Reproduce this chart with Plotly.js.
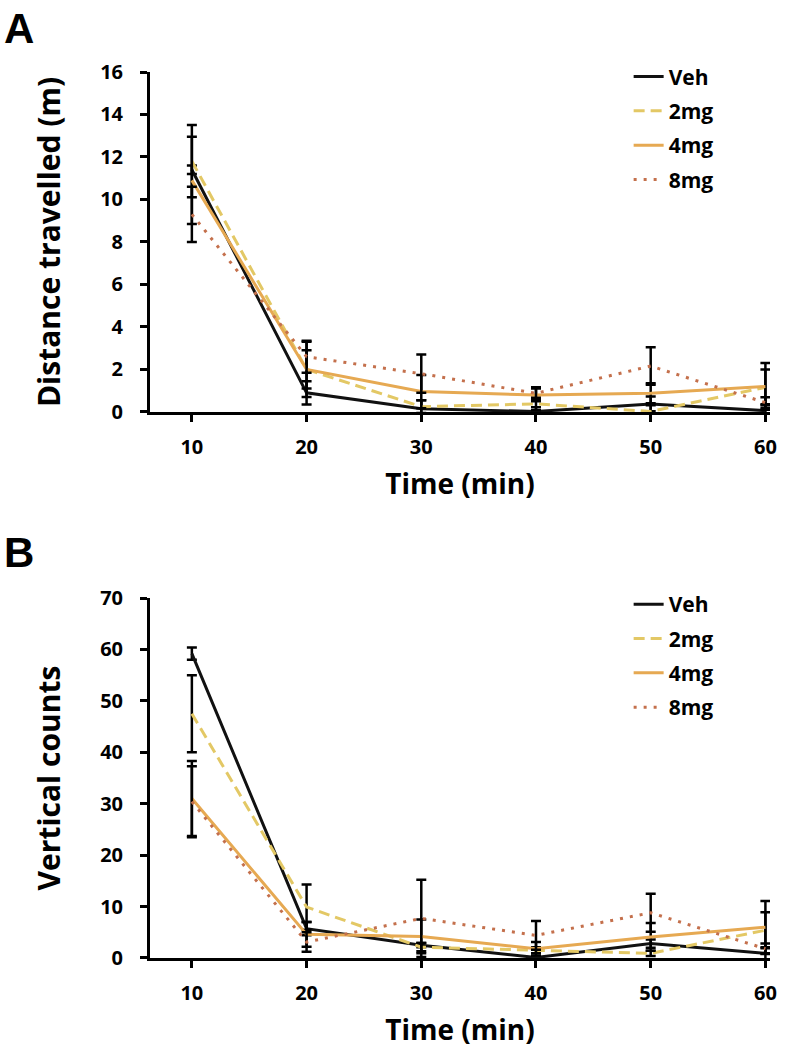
<!DOCTYPE html>
<html>
<head>
<meta charset="utf-8">
<script src="https://cdn.plot.ly/plotly-3.0.1.min.js"></script>
<style>html,body{margin:0;padding:0;background:#fff;}#chart{width:787px;height:1050px;}</style>
</head>
<body>
<div id="chart"></div>
<script>
// ---- data ----
const time = [10, 20, 30, 40, 50, 60];
const groups = ["Veh", "2mg", "4mg", "8mg"];

// Panel A: distance travelled (m)
const distVeh = [11.4, 0.9, 0.15, 0.02, 0.38, 0.06];
const distVehErr = [0.2, 0.55, 0.4, 0.2, 0.35, 0.3];
const dist2mg = [11.8, 2.0, 0.25, 0.38, 0.02, 1.16];
const dist2mgErr = [1.7, 1.3, 0.3, 0.3, 0.3, 0.84];
const dist4mg = [10.9, 2.0, 0.96, 0.8, 0.88, 1.2];
const dist4mgErr = [2.05, 0.9, 0.78, 0.3, 0.47, 1.1];
const dist8mg = [9.3, 2.6, 1.8, 0.88, 2.16, 0.44];
const dist8mgErr = [1.3, 0.75, 0.9, 0.28, 0.88, 0.25];

// Panel B: vertical counts
const vertVeh = [59.2, 5.7, 2.5, 0.1, 2.8, 0.9];
const vertVehErr = [1.2, 1.3, 0.4, 0.3, 0.8, 1.2];
const vert2mg = [47.5, 9.9, 2.1, 1.5, 0.9, 5.4];
const vert2mgErr = [7.5, 4.4, 0.8, 0.6, 0.5, 3.5];
const vert4mg = [31.0, 4.6, 4.2, 1.8, 4.1, 6.0];
const vert4mgErr = [7.3, 2.4, 3.3, 1.3, 2.7, 5.1];
const vert8mg = [30.4, 3.1, 7.7, 4.4, 8.8, 1.8];
const vert8mgErr = [6.9, 1.9, 7.5, 2.8, 3.7, 1.0];

// ---- styles ----
const styles = {
  "Veh": {color: "#111111", dash: "solid"},
  "2mg": {color: "#e3c865", dash: "11px,6px"},
  "4mg": {color: "#e6a952", dash: "solid"},
  "8mg": {color: "#c4704c", dash: "3px,7px"}
};

function mk(name, y, err, xa, ya, leg) {
  return {
    x: time, y: y, name: name, type: "scatter", mode: "lines",
    xaxis: xa, yaxis: ya, legend: leg, legendgroup: leg + name,
    line: {color: styles[name].color, width: 3, dash: styles[name].dash},
    error_y: {type: "data", array: err, visible: true, color: "#000", thickness: 2.5, width: 5}
  };
}

const data = [
  mk("Veh", distVeh, distVehErr, "x", "y", "legend"),
  mk("2mg", dist2mg, dist2mgErr, "x", "y", "legend"),
  mk("4mg", dist4mg, dist4mgErr, "x", "y", "legend"),
  mk("8mg", dist8mg, dist8mgErr, "x", "y", "legend"),
  mk("Veh", vertVeh, vertVehErr, "x2", "y2", "legend2"),
  mk("2mg", vert2mg, vert2mgErr, "x2", "y2", "legend2"),
  mk("4mg", vert4mg, vert4mgErr, "x2", "y2", "legend2"),
  mk("8mg", vert8mg, vert8mgErr, "x2", "y2", "legend2")
];

const tickFont = {family: "Open Sans", size: 20, color: "#000", weight: 700};
const xTitleFont = {family: "Open Sans", size: 28, color: "#000", weight: 700};
const yTitleFont = {family: "Open Sans", size: 30, color: "#000", weight: 700};
const legFont = {family: "Open Sans", size: 21, color: "#000", weight: 700};

function xax(anchor) {
  return {
    anchor: anchor, domain: [0, 1], range: [6.35, 60.4],
    tickmode: "array", tickvals: time, ticktext: time.map(String),
    showline: true, linecolor: "#000", linewidth: 3,
    ticks: "outside", ticklen: 7, tickwidth: 3, tickcolor: "#000",
    showgrid: false, zeroline: false, tickfont: tickFont, ticklabelstandoff: 8,
    title: {text: "Time (min)", font: xTitleFont, standoff: 16}
  };
}
function yax(anchor, domain, range, dtick, title) {
  return {
    anchor: anchor, domain: domain, range: range, dtick: dtick, tick0: 0,
    showline: true, linecolor: "#000", linewidth: 3,
    ticks: "outside", ticklen: 7, tickwidth: 3, tickcolor: "#000",
    showgrid: false, zeroline: false, tickfont: tickFont, ticklabelstandoff: 13,
    title: {text: title, font: yTitleFont, standoff: 31}
  };
}

const layout = {
  width: 787, height: 1050,
  margin: {l: 150, r: 17, t: 72, b: 92},
  paper_bgcolor: "#fff", plot_bgcolor: "#fff",
  showlegend: true,
  xaxis: xax("y"),
  yaxis: yax("x", [0.6163, 1], [0, 16], 2, "Distance travelled (m)"),
  xaxis2: xax("y2"),
  yaxis2: yax("x2", [0, 0.4063], [0, 70], 10, "Vertical counts"),
  legend: {x: 0.772, y: 1.0176, xanchor: "left", yanchor: "top", font: legFont,
           bgcolor: "rgba(0,0,0,0)", tracegroupgap: 4, traceorder: "grouped"},
  legend2: {x: 0.772, y: 0.422, xanchor: "left", yanchor: "top", font: legFont,
            bgcolor: "rgba(0,0,0,0)", tracegroupgap: 4, traceorder: "grouped"},
  annotations: [
    {text: "A", xref: "paper", yref: "paper", x: -0.239, y: 1.078, xanchor: "left", yanchor: "top",
     showarrow: false, font: {family: "Liberation Sans", size: 42, color: "#000", weight: 700}},
    {text: "B", xref: "paper", yref: "paper", x: -0.239, y: 0.486, xanchor: "left", yanchor: "top",
     showarrow: false, font: {family: "Liberation Sans", size: 42, color: "#000", weight: 700}}
  ]
};

Plotly.newPlot("chart", data, layout, {displayModeBar: false, staticPlot: true});
</script>
</body>
</html>
